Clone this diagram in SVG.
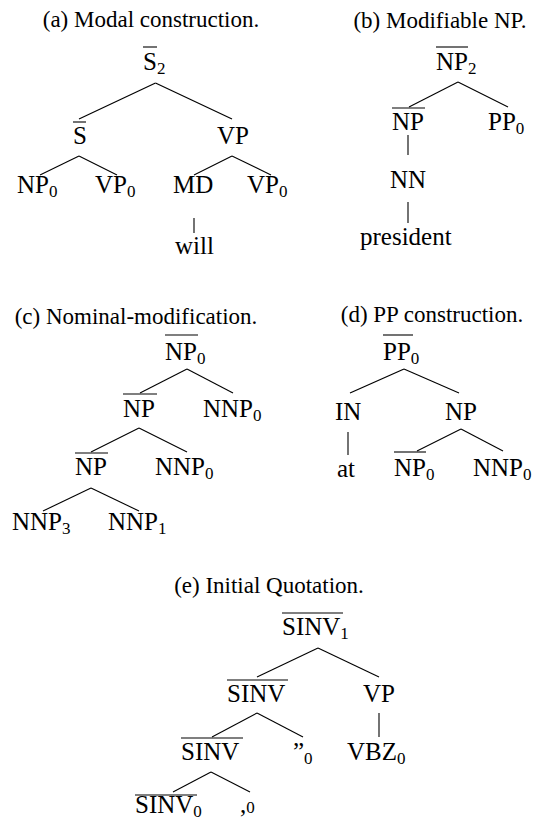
<svg xmlns="http://www.w3.org/2000/svg" width="536" height="820" viewBox="0 0 536 820" font-family="'Liberation Serif', 'DejaVu Serif', 'Times New Roman', serif">
<style>
text{font-family:'Liberation Serif','DejaVu Serif','Times New Roman',serif;fill:#000}
.cap{font-size:23px;text-anchor:middle}
.lb{font-size:25px}
.sub{font-size:17px}
line{stroke:#000;stroke-width:1.1}
</style>
<rect width="536" height="820" fill="#fff"/>
<g id="captions">
<text class="cap" x="151" y="27">(a) Modal construction.</text>
<text class="cap" x="440" y="28">(b) Modifiable NP.</text>
<text class="cap" x="136" y="324">(c) Nominal-modification.</text>
<text class="cap" x="432" y="322">(d) PP construction.</text>
<text class="cap" x="269" y="593">(e) Initial Quotation.</text>
</g>
<g id="connectors">
<line x1="155.5" y1="83" x2="79" y2="119"/>
<line x1="155.5" y1="83" x2="232" y2="119"/>
<line x1="79" y1="156" x2="40" y2="175"/>
<line x1="79" y1="156" x2="117" y2="175"/>
<line x1="232" y1="156" x2="194" y2="175"/>
<line x1="232" y1="156" x2="271" y2="175"/>
<line x1="194" y1="218" x2="194" y2="233"/>
<line x1="458" y1="82" x2="409" y2="107"/>
<line x1="458" y1="82" x2="508" y2="107"/>
<line x1="408" y1="135" x2="408" y2="155"/>
<line x1="408" y1="202" x2="408" y2="223"/>
<line x1="187" y1="369" x2="140" y2="393"/>
<line x1="187" y1="369" x2="233" y2="393"/>
<line x1="139" y1="428" x2="91" y2="452"/>
<line x1="139" y1="428" x2="187" y2="452"/>
<line x1="91" y1="488" x2="43" y2="511"/>
<line x1="91" y1="488" x2="139" y2="511"/>
<line x1="404" y1="369" x2="350" y2="393"/>
<line x1="404" y1="369" x2="459" y2="393"/>
<line x1="348" y1="432" x2="348" y2="455"/>
<line x1="461" y1="429" x2="417" y2="451"/>
<line x1="461" y1="429" x2="503" y2="451"/>
<line x1="318" y1="648" x2="257" y2="677"/>
<line x1="318" y1="648" x2="379" y2="677"/>
<line x1="379" y1="713" x2="379" y2="737"/>
<line x1="257" y1="713" x2="212" y2="737"/>
<line x1="257" y1="713" x2="303" y2="737"/>
<line x1="211" y1="772" x2="173" y2="792"/>
<line x1="211" y1="772" x2="250" y2="792"/>
</g>
<!-- (a) -->
<g id="a-S2"><text class="lb" x="143" y="70">S<tspan class="sub" dy="4">2</tspan></text><line x1="143" y1="47" x2="157" y2="47"/></g>
<g id="a-S"><text class="lb" x="73" y="144">S</text><line x1="73" y1="122" x2="86" y2="122"/></g>
<g id="a-VP"><text class="lb" x="217" y="144">VP</text></g>
<g id="a-NP0"><text class="lb" x="17" y="193">NP<tspan class="sub" dy="4">0</tspan></text></g>
<g id="a-VP0"><text class="lb" x="95" y="193">VP<tspan class="sub" dy="4">0</tspan></text></g>
<g id="a-MD"><text class="lb" x="173" y="193">MD</text></g>
<g id="a-VP0b"><text class="lb" x="247" y="193">VP<tspan class="sub" dy="4">0</tspan></text></g>
<g id="a-will"><text class="lb" x="175" y="254">will</text></g>
<!-- (b) -->
<g id="b-NP2"><text class="lb" x="436" y="70">NP<tspan class="sub" dy="4">2</tspan></text><line x1="436" y1="47" x2="468" y2="47"/></g>
<g id="b-NP"><text class="lb" x="392" y="130">NP</text><line x1="392" y1="108" x2="425" y2="108"/></g>
<g id="b-PP0"><text class="lb" x="488" y="130">PP<tspan class="sub" dy="4">0</tspan></text></g>
<g id="b-NN"><text class="lb" x="390" y="188">NN</text></g>
<g id="b-president"><text class="lb" x="360" y="245">president</text></g>
<!-- (c) -->
<g id="c-NP0"><text class="lb" x="165" y="360">NP<tspan class="sub" dy="4">0</tspan></text><line x1="165" y1="335" x2="198" y2="335"/></g>
<g id="c-NP1"><text class="lb" x="123" y="417">NP</text><line x1="123" y1="394" x2="157" y2="394"/></g>
<g id="c-NNP0a"><text class="lb" x="203" y="417">NNP<tspan class="sub" dy="4">0</tspan></text></g>
<g id="c-NP2"><text class="lb" x="75" y="475">NP</text><line x1="75" y1="453" x2="108" y2="453"/></g>
<g id="c-NNP0b"><text class="lb" x="155" y="475">NNP<tspan class="sub" dy="4">0</tspan></text></g>
<g id="c-NNP3"><text class="lb" x="12" y="530">NNP<tspan class="sub" dy="4">3</tspan></text></g>
<g id="c-NNP1"><text class="lb" x="108" y="530">NNP<tspan class="sub" dy="4">1</tspan></text></g>
<!-- (d) -->
<g id="d-PP0"><text class="lb" x="383" y="360">PP<tspan class="sub" dy="4">0</tspan></text><line x1="383" y1="335" x2="413" y2="335"/></g>
<g id="d-IN"><text class="lb" x="335" y="420">IN</text></g>
<g id="d-NP"><text class="lb" x="445" y="420">NP</text></g>
<g id="d-at"><text class="lb" x="337" y="477">at</text></g>
<g id="d-NP0"><text class="lb" x="394" y="476">NP<tspan class="sub" dy="4">0</tspan></text><line x1="394" y1="452" x2="426" y2="452"/></g>
<g id="d-NNP0"><text class="lb" x="473" y="476">NNP<tspan class="sub" dy="4">0</tspan></text></g>
<!-- (e) -->
<g id="e-SINV1"><text class="lb" x="282" y="635">SINV<tspan class="sub" dy="4">1</tspan></text><line x1="282" y1="613" x2="343" y2="613"/></g>
<g id="e-SINVa"><text class="lb" x="227" y="702">SINV</text><line x1="227" y1="680" x2="288" y2="680"/></g>
<g id="e-VP"><text class="lb" x="363" y="702">VP</text></g>
<g id="e-VBZ0"><text class="lb" x="347" y="760">VBZ<tspan class="sub" dy="4">0</tspan></text></g>
<g id="e-SINVb"><text class="lb" x="181" y="760">SINV</text><line x1="181" y1="738" x2="243" y2="738"/></g>
<g id="e-quote"><text class="lb" x="293" y="760">”<tspan class="sub" dy="4">0</tspan></text></g>
<g id="e-SINV0"><text class="lb" x="135" y="813">SINV<tspan class="sub" dy="4">0</tspan></text><line x1="135" y1="795" x2="197" y2="795"/></g>
<g id="e-comma"><text class="lb" x="240" y="813">,<tspan class="sub">0</tspan></text></g>
</svg>
